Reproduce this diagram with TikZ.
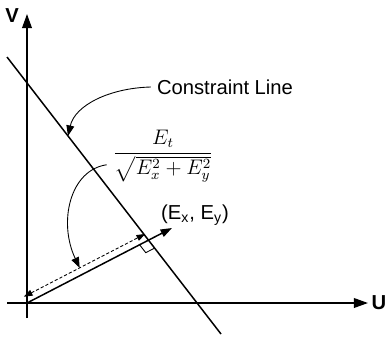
\documentclass[tikz,border=0pt]{standalone}
\usepackage{amsmath}
\usepackage{fontspec}
\setsansfont{Liberation Sans}
\usetikzlibrary{arrows.meta, calc, intersections}

\begin{document}
\begin{tikzpicture}[
    x=0.02cm, y=-0.02cm,
    every node/.style={font=\sffamily\fontsize{11.5}{13}\selectfont},
    axis/.style={-{Triangle[length=8pt, width=5.5pt]}, line width=0.85pt},
    arrow/.style={-{Triangle[length=6.5pt, width=4.5pt]}, line width=0.85pt},
    pointer/.style={-{Triangle[length=6pt, width=4.5pt]}, line width=0.5pt},
    dimline/.style={{Triangle[length=5pt, width=3.5pt]}-{Triangle[length=5pt, width=3.5pt]}, line width=0.5pt, dash pattern=on 1.8pt off 1.2pt},
    axislabel/.style={font=\sffamily\bfseries\fontsize{11.5}{13}\selectfont}
]
\useasboundingbox (0,0) rectangle (386,336);

% Axes
\coordinate (O) at (27,303);
\coordinate (vbot) at (27,318);
\coordinate (vtop) at (27,14);
\coordinate (uleft) at (7,303);
\coordinate (uright) at (368,303);
\draw[axis] (vbot) -- (vtop);
\draw[axis] (uleft) -- (uright);
\node[axislabel] (vlabel) at (12,16) {V};
\node[axislabel] (ulabel) at (379,303) {U};

% Constraint line
\coordinate (c1) at (7,57);
\coordinate (c2) at (221,334);
\draw[line width=0.85pt, name path=cline] (c1) -- (c2);
\node (cltext) at (225,87) {Constraint Line};
\coordinate (clhit) at ($(c1)!0.285!(c2)$);
\draw[pointer] (cltext.west) .. controls (110,88) and (75,105) .. (clhit);

% Vector (Ex, Ey)
\coordinate (P) at (172,228);
\path[name path=vec] (O) -- (P);
\path[name intersections={of=cline and vec, by=F}];
\draw[arrow] (O) -- (P);
\node (ptext) at (195,215) {(E\textsubscript{x}, E\textsubscript{y})};

% Right angle mark
\coordinate (ra1) at ($(F)!5.7pt!(O)$);
\coordinate (ra2) at ($(F)!5.7pt!(c2)$);
\draw[line width=0.5pt] (ra1) -- ($(ra1)+(ra2)-(F)$) -- (ra2);

% Distance to the line
\coordinate (dA) at ($(O)!4pt!90:(P)$);
\coordinate (dB) at ($(F)!4pt!-90:(O)$);
\draw[dimline] (dA) -- (dB);
\node (frac) at (163,156) {$\dfrac{E_t}{\sqrt{E_x^2+E_y^2}}$};
\coordinate (dimhit) at ($(dA)!0.46!(dB)$);
\draw[pointer] ([yshift=-5pt]frac.west) .. controls (70,170) and (58,222) .. (dimhit);

\end{tikzpicture}
\end{document}
